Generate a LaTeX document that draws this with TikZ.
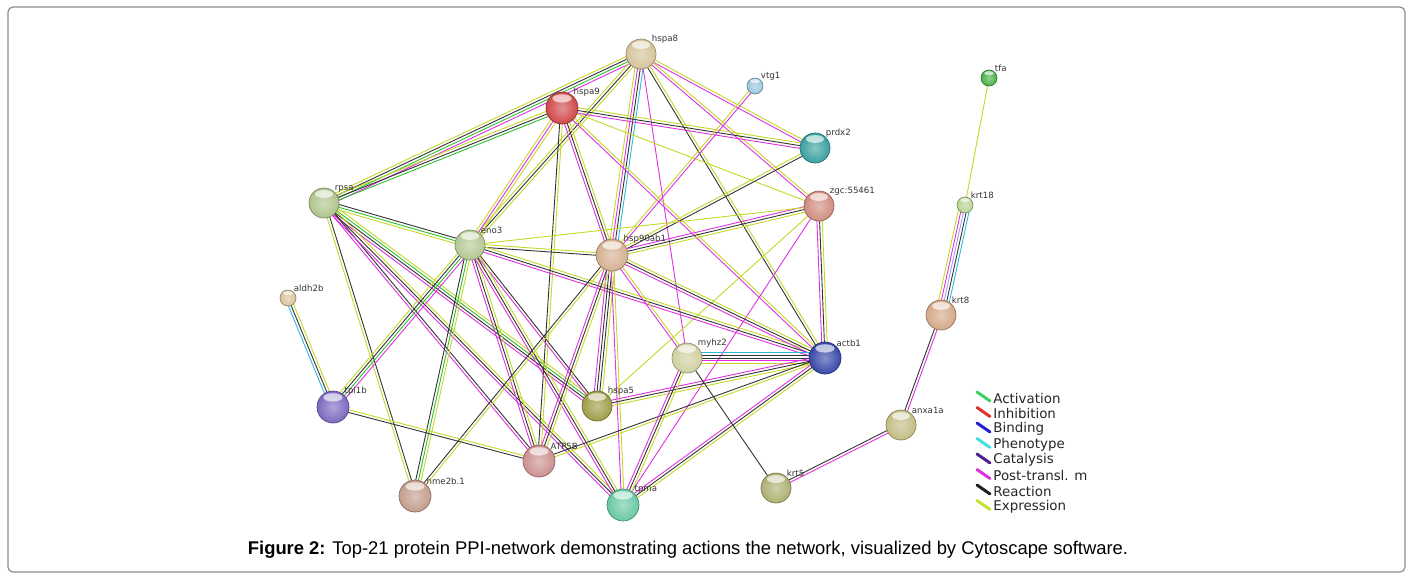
\documentclass[tikz,border=0pt]{standalone}
\usepackage{fontspec}
\setmainfont{Liberation Sans}
\newfontfamily\vfont{DejaVu Sans}
\usetikzlibrary{calc}
\pgfdeclarelayer{edges}
\pgfsetlayers{edges,main}
\definecolor{eY}{HTML}{C4D828}
\definecolor{eM}{HTML}{E030E0}
\definecolor{eK}{HTML}{333333}
\definecolor{eG}{HTML}{30C030}
\definecolor{eC}{HTML}{30B8E0}
\definecolor{eB}{HTML}{A0A0F0}
\definecolor{lG}{HTML}{40D060}
\definecolor{lR}{HTML}{E03030}
\definecolor{lB}{HTML}{2020D0}
\definecolor{lC}{HTML}{40E0E0}
\definecolor{lP}{HTML}{502090}
\definecolor{lM}{HTML}{E030E0}
\definecolor{lK}{HTML}{202020}
\definecolor{lY}{HTML}{C8E030}
\definecolor{cHspaE}{HTML}{D4C49A}
\definecolor{cHspaN}{HTML}{D04848}
\definecolor{cVtg}{HTML}{98C8DC}
\definecolor{cPrdx}{HTML}{3AA0A0}
\definecolor{cZgc}{HTML}{D08C80}
\definecolor{cTfa}{HTML}{48B048}
\definecolor{cKrtE}{HTML}{B8D494}
\definecolor{cRpsa}{HTML}{B0C48C}
\definecolor{cEno}{HTML}{B4C894}
\definecolor{cHsp}{HTML}{D4B090}
\definecolor{cAldh}{HTML}{DCC49C}
\definecolor{cKrtA}{HTML}{D4A888}
\definecolor{cActb}{HTML}{3848A8}
\definecolor{cMyhz}{HTML}{D0D0A0}
\definecolor{cHspaF}{HTML}{A09C48}
\definecolor{cTpi}{HTML}{7C68C0}
\definecolor{cAnxa}{HTML}{C4BC84}
\definecolor{cAtp}{HTML}{CC9090}
\definecolor{cNme}{HTML}{C49C8C}
\definecolor{cTpma}{HTML}{68C8A4}
\definecolor{cKrtF}{HTML}{ACB070}
\newcommand\edg[3]{%
  \foreach \ecol [count=\ei] in {#3} {\global\let\eN\ei}%
  \foreach \ecol [count=\ei] in {#3} {%
    \pgfmathsetmacro\eoff{(\ei-(\eN+1)/2)*1.35}%
    \draw[\ecol, eline] ($(#1)!\eoff pt!90:(#2)$) -- ($(#2)!\eoff pt!-90:(#1)$);
  }%
}
\tikzset{
  eline/.style={line width=0.45pt},
  prot/.style 2 args={circle, minimum size=#2, inner sep=0pt, draw=#1!70!black, line width=0.35pt,
    inner color=#1!60!white, outer color=#1,
    path picture={\fill[white,opacity=0.65] ($(path picture bounding box.north)+(0,-0.2*#2)$) ellipse ({0.3*#2} and {0.13*#2});}},
  lbl/.style={font=\vfont\fontsize{4.3}{5}\selectfont, text=black!80, inner sep=0.4pt, label distance=-0.8pt},
  leg/.style={font=\vfont\fontsize{6.7}{7}\selectfont, text=black!85, anchor=west, inner sep=0pt},
  legline/.style={line width=1.5pt, line cap=round},
}
\begin{document}
\begin{tikzpicture}[x=0.5pt,y=-0.5pt]
\useasboundingbox (0,0) rectangle (1414,579);
\draw[rounded corners=2.5pt, draw=black!45, line width=0.6pt] (8,7) rectangle (1405,572);
% nodes
\node[prot={cHspaE}{15pt}, label={[lbl]45:hspa8}] (hspa8) at (641,54) {};
\node[prot={cHspaN}{16pt}, label={[lbl]45:hspa9}] (hspa9) at (562,108) {};
\node[prot={cVtg}{8pt}, label={[lbl]45:vtg1}] (vtg1) at (755,86) {};
\node[prot={cPrdx}{15pt}, label={[lbl]45:prdx2}] (prdx2) at (815,148) {};
\node[prot={cZgc}{15pt}, label={[lbl]45:zgc:55461}] (zgc) at (819,206) {};
\node[prot={cTfa}{8pt}, label={[lbl]45:tfa}] (tfa) at (989,78) {};
\node[prot={cKrtE}{8pt}, label={[lbl]45:krt18}] (krt18) at (965,205) {};
\node[prot={cRpsa}{15pt}, label={[lbl]45:rpsa}] (rpsa) at (324,203) {};
\node[prot={cEno}{15pt}, label={[lbl]45:eno3}] (eno3) at (470,245) {};
\node[prot={cHsp}{16pt}, label={[lbl]45:hsp90ab1}] (hsp90) at (612,255) {};
\node[prot={cAldh}{8pt}, label={[lbl]45:aldh2b}] (aldh2b) at (288,298) {};
\node[prot={cKrtA}{15pt}, label={[lbl]45:krt8}] (krt8) at (941,315) {};
\node[prot={cActb}{16pt}, label={[lbl]45:actb1}] (actb1) at (825,358) {};
\node[prot={cMyhz}{15pt}, label={[lbl]45:myhz2}] (myhz2) at (687,358) {};
\node[prot={cHspaF}{15pt}, label={[lbl]45:hspa5}] (hspa5) at (597,406) {};
\node[prot={cTpi}{16pt}, label={[lbl]45:tpi1b}] (tpi1b) at (333,407) {};
\node[prot={cAnxa}{15pt}, label={[lbl]45:anxa1a}] (anxa1a) at (901,425) {};
\node[prot={cAtp}{16pt}, label={[lbl]45:ATP5B}] (ATP5B) at (539,461) {};
\node[prot={cNme}{16pt}, label={[lbl]45:nme2b.1}] (nme2b) at (415,496) {};
\node[prot={cTpma}{16pt}, label={[lbl]45:tpma}] (tpma) at (623,505) {};
\node[prot={cKrtF}{15pt}, label={[lbl]45:krt5}] (krt5) at (776,488) {};
% edges
\begin{pgfonlayer}{edges}
\edg{rpsa}{hspa8}{eM,eG,eK,eY}
\edg{rpsa}{hspa9}{eG,eK,eY}
\edg{rpsa}{eno3}{eY,eG,eK}
\edg{rpsa}{hspa5}{eM,eK,eG,eY}
\edg{rpsa}{ATP5B}{eM,eK}
\edg{rpsa}{tpma}{eM,eK,eY}
\edg{rpsa}{nme2b}{eY,eK}
\edg{hspa8}{eno3}{eY,eK,eY}
\edg{hspa8}{hsp90}{eY,eM,eK,eC}
\edg{hspa8}{prdx2}{eM,eY}
\edg{hspa8}{zgc}{eM,eY}
\edg{hspa8}{actb1}{eK,eY}
\edg{hspa8}{myhz2}{eM}
\edg{hspa9}{prdx2}{eM,eK,eY}
\edg{hspa9}{zgc}{eY}
\edg{hspa9}{eno3}{eY,eM,eY}
\edg{hspa9}{ATP5B}{eK,eY}
\edg{hspa9}{hsp90}{eM,eK,eY}
\edg{hspa9}{actb1}{eM,eY}
\edg{vtg1}{hsp90}{eY,eM}
\edg{prdx2}{hsp90}{eY,eK}
\edg{zgc}{hsp90}{eM,eK,eY}
\edg{zgc}{eno3}{eY}
\edg{zgc}{actb1}{eM,eK,eY}
\edg{zgc}{hspa5}{eY}
\edg{zgc}{tpma}{eM}
\edg{eno3}{hsp90}{eK,eY}
\edg{eno3}{actb1}{eM,eK,eY}
\edg{eno3}{tpi1b}{eY,eK,eG,eM}
\edg{eno3}{nme2b}{eK,eG,eY}
\edg{eno3}{ATP5B}{eM,eK,eY}
\edg{eno3}{hspa5}{eM,eK}
\edg{eno3}{tpma}{eM,eK,eY}
\edg{hsp90}{actb1}{eM,eK,eY}
\edg{hsp90}{hspa5}{eM,eK,eK,eY}
\edg{hsp90}{tpma}{eM,eY}
\edg{hsp90}{ATP5B}{eM,eK,eY}
\edg{hsp90}{nme2b}{eK,eY}
\edg{hsp90}{myhz2}{eM,eY}
\edg{actb1}{myhz2}{eC,eK,eK,eM,eY}
\edg{actb1}{hspa5}{eM,eK,eY}
\edg{actb1}{ATP5B}{eK,eY}
\edg{actb1}{tpma}{eM,eK,eY}
\edg{myhz2}{tpma}{eM,eK,eY}
\edg{myhz2}{krt5}{eK}
\edg{aldh2b}{tpi1b}{eC,eK,eY}
\edg{tpi1b}{ATP5B}{eK,eY}
\edg{krt18}{krt8}{eY,eM,eB,eK,eC}
\edg{krt8}{anxa1a}{eK,eM}
\edg{krt18}{tfa}{eY}
\edg{anxa1a}{krt5}{eK,eM}
\end{pgfonlayer}
% legend
\foreach \lc/\lt [count=\li from 0] in {lG/Activation,lR/Inhibition,lB/Binding,lC/Phenotype,lP/Catalysis,lM/Post-transl. m,lK/Reaction,lY/Expression}{
  \coordinate (la\li) at (977,{392+15.5*\li});
  \coordinate (lb\li) at (990,{401+15.5*\li});
  \draw[\lc, legline] (la\li) -- (lb\li);
  \node[leg] (lt\li) at (993,{398+15.5*\li}) {\lt};
}
% caption
\node[font=\fontsize{9.2}{11}\selectfont, text=black] (cap) at (688,550) {\textbf{Figure 2:} Top-21 protein PPI-network demonstrating actions the network, visualized by Cytoscape software.};
\end{tikzpicture}
\end{document}
